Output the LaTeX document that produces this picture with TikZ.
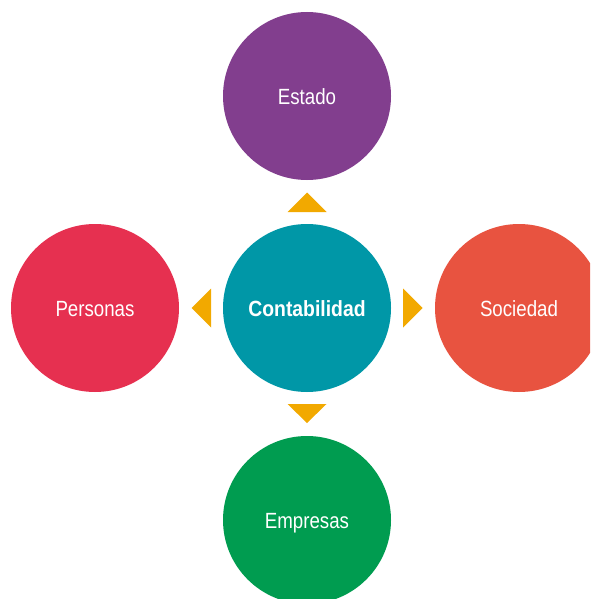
\documentclass[tikz,border=0pt]{standalone}
\usepackage{fontspec}
\setmainfont{Liberation Sans}[FakeStretch=0.85]
\newfontfamily\boldnarrow{Liberation Sans Bold}[FakeStretch=0.88]
\definecolor{cestado}{HTML}{823E8E}
\definecolor{cpersonas}{HTML}{E63050}
\definecolor{cconta}{HTML}{0097A7}
\definecolor{csociedad}{HTML}{E85340}
\definecolor{cempresas}{HTML}{009C50}
\definecolor{carrow}{HTML}{F2A900}
\tikzset{
  bubble/.style={circle, minimum size=168pt, inner sep=0pt, draw=none},
  lbl/.style={anchor=base, text=white, font=\fontsize{22}{26}\selectfont, inner sep=0pt},
  lblb/.style={anchor=base, text=white, font=\fontsize{22}{26}\selectfont\boldnarrow, inner sep=0pt},
  tri/.style={fill=carrow, draw=none}
}
\begin{document}
\begin{tikzpicture}[x=1pt,y=-1pt]
\useasboundingbox (0,0) rectangle (590,599);
\begin{scope}
\clip (0,0) rectangle (590,599);
\node[bubble, fill=cestado] (estado) at (307,96) {};
\node[bubble, fill=cpersonas] (personas) at (95,308) {};
\node[bubble, fill=cconta] (conta) at (307,308) {};
\node[bubble, fill=csociedad] (sociedad) at (519,308) {};
\node[bubble, fill=cempresas] (empresas) at (307,520) {};
\end{scope}
\node[lbl] (testado) at (307,104.5) {Estado};
\node[lbl] (tpersonas) at (95,316.5) {Personas};
\node[lblb] (tconta) at (307,316.5) {Contabilidad};
\node[lbl] (tsociedad) at (519,316.5) {Sociedad};
\node[lbl] (tempresas) at (307,528.5) {Empresas};
% arrows
\fill[tri] (287.5,212) -- (326.5,212) -- (307,192.5) -- cycle;
\fill[tri] (287.5,404) -- (326.5,404) -- (307,423) -- cycle;
\fill[tri] (211,288.5) -- (211,327.5) -- (191.5,308) -- cycle;
\fill[tri] (403,288.5) -- (403,327.5) -- (422.5,308) -- cycle;
\end{tikzpicture}
\end{document}
